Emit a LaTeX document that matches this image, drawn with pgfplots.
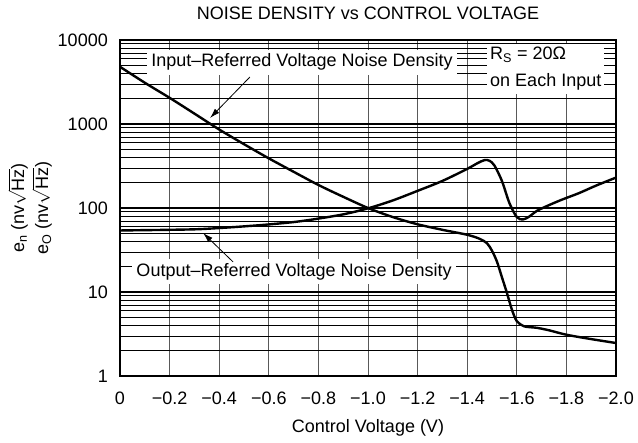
\documentclass[border=0pt]{standalone}
\usepackage{fontspec}
\setmainfont{Liberation Sans}
\usepackage{pgfplots}
\pgfplotsset{compat=1.18}
\usetikzlibrary{arrows.meta}

\begin{document}
\begin{tikzpicture}
\begin{axis}[
  scale only axis,
  width=496pt, height=336pt,
  font=\fontsize{18}{21}\selectfont,
  xmin=-2, xmax=0, x dir=reverse,
  ymode=log, ymin=1, ymax=10000,
  xtick={0,-0.2,-0.4,-0.6,-0.8,-1.0,-1.2,-1.4,-1.6,-1.8,-2.0},
  xticklabels={0,−0.2,−0.4,−0.6,−0.8,−1.0,−1.2,−1.4,−1.6,−1.8,−2.0},
  ytick={1,10,100,1000,10000},
  yticklabels={1,10,100,1000,10000},
  major tick length=0pt, minor tick length=0pt,
  xmajorgrids, ymajorgrids, yminorgrids,
  major x grid style={line width=0.9pt, draw=black!65},
  major y grid style={line width=1.8pt, draw=black},
  minor y grid style={line width=0.8pt, draw=black},
  axis line style={line width=2.6pt},
  xticklabel style={anchor=base, inner sep=0pt, yshift=-29pt},
  yticklabel style={anchor=east, inner sep=0pt, xshift=-12pt},
  title={NOISE DENSITY vs CONTROL VOLTAGE},
  title style={at={(rel axis cs:0.5,1)}, anchor=base, inner sep=0pt, yshift=14pt},
  xlabel={Control Voltage (V)},
  xlabel style={at={(rel axis cs:0.5,0)}, anchor=base, inner sep=0pt, yshift=-57pt},
]

% Input-referred noise density
\addplot[line width=2.4pt, smooth, tension=0.5] coordinates {
(0,4800) (-0.1,3100) (-0.2,2050) (-0.3,1330) (-0.4,860) (-0.5,575)
(-0.6,390) (-0.7,270) (-0.8,188) (-0.9,136) (-1.0,100) (-1.1,78)
(-1.2,64) (-1.3,55) (-1.4,48) (-1.45,43) (-1.48,38) (-1.50,31)
(-1.52,23) (-1.54,15) (-1.56,9.8) (-1.58,6.2) (-1.60,4.5) (-1.63,3.9)
(-1.68,3.75) (-1.73,3.5) (-1.8,3.1) (-1.9,2.75) (-2.0,2.47)
};

% Output-referred noise density
\addplot[line width=2.4pt, smooth, tension=0.5] coordinates {
(0,54) (-0.1,54.5) (-0.2,55) (-0.32,56) (-0.45,59) (-0.58,63)
(-0.7,68) (-0.79,74) (-0.9,84) (-1.0,99) (-1.1,123) (-1.2,160)
(-1.3,210) (-1.4,292) (-1.44,340) (-1.47,372) (-1.49,365) (-1.51,320)
(-1.54,210) (-1.57,115) (-1.60,78) (-1.625,73) (-1.65,79) (-1.68,92)
(-1.72,105) (-1.78,125) (-1.85,150) (-1.92,185) (-2.0,230)
};

% Labels
\node[fill=white, inner sep=4pt] at (rel axis cs:0.367,0.934)
  {Input–Referred Voltage Noise Density};
\node[fill=white, inner sep=4pt] at (rel axis cs:0.351,0.31)
  {Output–Referred Voltage Noise Density};
\node[fill=white, anchor=north west, align=left, inner sep=3pt,
  font=\fontsize{18}{27}\selectfont] at (rel axis cs:0.74,0.988)
  {R\textsubscript{S} = 20Ω\\on Each Input};

% Arrows
\draw[line width=0.8pt, -{Latex[length=10pt,width=6pt]}]
  (axis cs:-0.524,3630) -- (axis cs:-0.363,1178);
\draw[line width=0.8pt, -{Latex[length=10pt,width=6pt]}]
  (axis cs:-0.456,22.8) -- (axis cs:-0.335,50.4);

\coordinate (yl) at (rel axis cs:0,0.5);
\coordinate (bl) at (rel axis cs:0,0);
\coordinate (tr) at (rel axis cs:1,1);
\end{axis}

% y label
\node[rotate=90, align=center, inner sep=0pt, font=\fontsize{18}{24}\selectfont]
  at ([xshift=-90pt]yl)
  {e\textsubscript{n} (nv$\sqrt{\mbox{Hz}}$)\\e\textsubscript{O} (nv$\sqrt{\mbox{Hz}}$)};

\useasboundingbox ([xshift=-120pt,yshift=-67pt]bl) rectangle ([xshift=22pt,yshift=40pt]tr);
\end{tikzpicture}
\end{document}
